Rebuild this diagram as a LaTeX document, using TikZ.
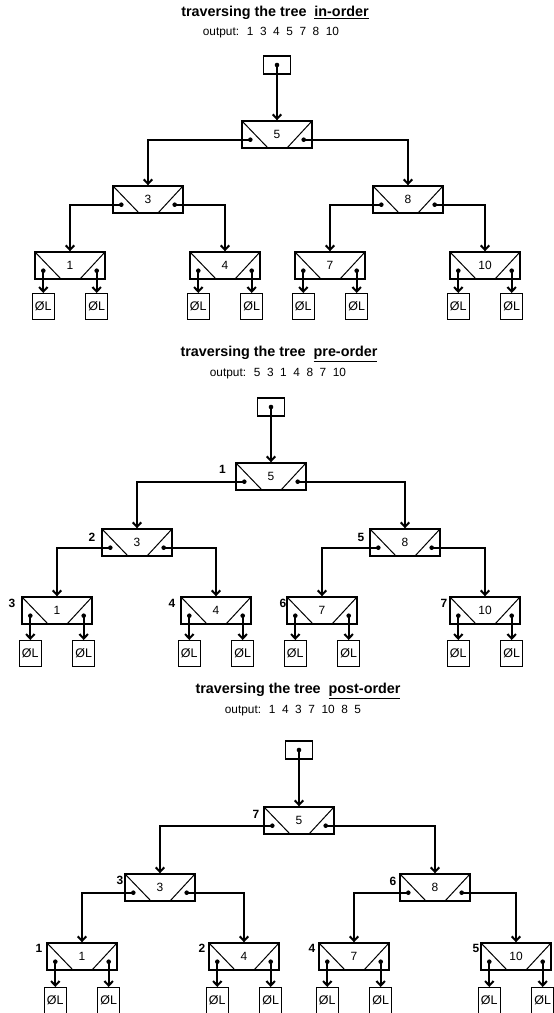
\documentclass[tikz,border=0pt]{standalone}
\usepackage{fontspec}
\setmainfont{Liberation Sans}
\usetikzlibrary{arrows.meta,calc}

% list cell: value field with two pointer fields cut off by diagonals
\tikzset{
  listnode/.style={draw, line width=1.4bp, minimum width=70bp, minimum height=27bp,
    inner sep=0pt, font=\fontsize{12}{14}\selectfont,
    path picture={
      \draw[line width=1bp] (path picture bounding box.north west) -- ([xshift=26bp]path picture bounding box.south west);
      \draw[line width=1bp] (path picture bounding box.north east) -- ([xshift=-25bp]path picture bounding box.south east);
    }},
  nullbox/.style={draw, line width=1.3bp, minimum width=22bp, minimum height=26bp,
    inner sep=0pt, font=\fontsize{12.5}{14}\selectfont},
  headbox/.style={draw, line width=1.3bp, minimum width=27bp, minimum height=18bp, inner sep=0pt},
  link/.style={line width=2bp, -{Straight Barb[length=4.5bp,width=8.5bp]}},
  title/.style={font=\fontsize{14.4}{17}\selectfont\bfseries},
  outline/.style={font=\fontsize{11.9}{14}\selectfont},
  order/.style={font=\fontsize{12}{14}\selectfont\bfseries, inner sep=0pt},
}

% a cell with its two pointer dots
\newcommand{\cell}[4]{%
  \node[listnode] (#1) at (#2,#3) {#4};
  \coordinate (#1-l) at ($(#1.south west)+(9bp,9bp)$);
  \coordinate (#1-r) at ($(#1.south east)+(-9bp,9bp)$);
  \fill (#1-l) circle (2.3bp);
  \fill (#1-r) circle (2.3bp);
}
% two null children hanging from a leaf cell
\newcommand{\nulls}[2]{%
  \node[nullbox, anchor=north] (#1-ln) at (#1-l |- 0,#2) {ØL};
  \node[nullbox, anchor=north] (#1-rn) at (#1-r |- 0,#2) {ØL};
  \draw[link] (#1-l) -- (#1-ln.north);
  \draw[link] (#1-r) -- (#1-rn.north);
}
% head pointer box above the root cell
\newcommand{\head}[3]{%
  \node[headbox] (#1) at (#3.north |- 0,#2) {};
  \fill (#1.center) circle (2.3bp);
  \draw[link] (#1.center) -- (#3.north);
}

\begin{document}
\begin{tikzpicture}[x=1bp,y=-1bp]
\useasboundingbox (0,0) rectangle (554,1013);

% ---------------- in-order ----------------
\node[title] (t1) at (275,13) {traversing the tree\ \ \underline{in-order}};
\node[outline] (o1) at (271,33) {output:~ 1~ 3~ 4~ 5~ 7~ 8~ 10};
\cell{a5}{277}{134.5}{5}
\cell{a3}{148}{199.5}{3}
\cell{a8}{408}{199.5}{8}
\cell{a1}{70}{265.5}{1}
\cell{a4}{225}{265.5}{4}
\cell{a7}{330}{265.5}{7}
\cell{a10}{485}{265.5}{10}
\head{ah}{65}{a5}
\draw[link] (a5-l) -| (a3.north);
\draw[link] (a5-r) -| (a8.north);
\draw[link] (a3-l) -| (a1.north);
\draw[link] (a3-r) -| (a4.north);
\draw[link] (a8-l) -| (a7.north);
\draw[link] (a8-r) -| (a10.north);
\nulls{a1}{293}\nulls{a4}{293}\nulls{a7}{293}\nulls{a10}{293}

% ---------------- pre-order ----------------
\node[title] (t2) at (279,354) {traversing the tree\ \ \underline{pre-order}};
\node[outline] (o2) at (278,374) {output:~ 5~ 3~ 1~ 4~ 8~ 7~ 10};
\cell{b5}{271}{476.5}{5}
\cell{b3}{137}{542.5}{3}
\cell{b8}{405}{542.5}{8}
\cell{b1}{57}{610.5}{1}
\cell{b4}{216}{610.5}{4}
\cell{b7}{322}{610.5}{7}
\cell{b10}{485}{610.5}{10}
\head{bh}{407}{b5}
\draw[link] (b5-l) -| (b3.north);
\draw[link] (b5-r) -| (b8.north);
\draw[link] (b3-l) -| (b1.north);
\draw[link] (b3-r) -| (b4.north);
\draw[link] (b8-l) -| (b7.north);
\draw[link] (b8-r) -| (b10.north);
\nulls{b1}{640}\nulls{b4}{640}\nulls{b7}{640}\nulls{b10}{640}
\node[order] (bo1) at (222.5,469) {1};
\node[order] (bo2) at (92,537) {2};
\node[order] (bo3) at (12,603) {3};
\node[order] (bo4) at (172,603) {4};
\node[order] (bo5) at (361,537) {5};
\node[order] (bo6) at (283,603) {6};
\node[order] (bo7) at (444,603) {7};

% ---------------- post-order ----------------
\node[title] (t3) at (298,691) {traversing the tree\ \ \underline{post-order}};
\node[outline] (o3) at (293,711) {output:~ 1~ 4~ 3~ 7~ 10~ 8~ 5};
\cell{c5}{299}{820.5}{5}
\cell{c3}{160}{887.5}{3}
\cell{c8}{435}{887.5}{8}
\cell{c1}{82}{956.5}{1}
\cell{c4}{244}{956.5}{4}
\cell{c7}{354}{956.5}{7}
\cell{c10}{516}{956.5}{10}
\head{ch}{750}{c5}
\draw[link] (c5-l) -| (c3.north);
\draw[link] (c5-r) -| (c8.north);
\draw[link] (c3-l) -| (c1.north);
\draw[link] (c3-r) -| (c4.north);
\draw[link] (c8-l) -| (c7.north);
\draw[link] (c8-r) -| (c10.north);
\nulls{c1}{987}\nulls{c4}{987}\nulls{c7}{987}\nulls{c10}{987}
\node[order] (co7) at (256,814) {7};
\node[order] (co3) at (120,880) {3};
\node[order] (co6) at (393,881) {6};
\node[order] (co1) at (39,948) {1};
\node[order] (co2) at (202,948) {2};
\node[order] (co4) at (312,948) {4};
\node[order] (co5) at (476,948) {5};
\end{tikzpicture}
\end{document}
